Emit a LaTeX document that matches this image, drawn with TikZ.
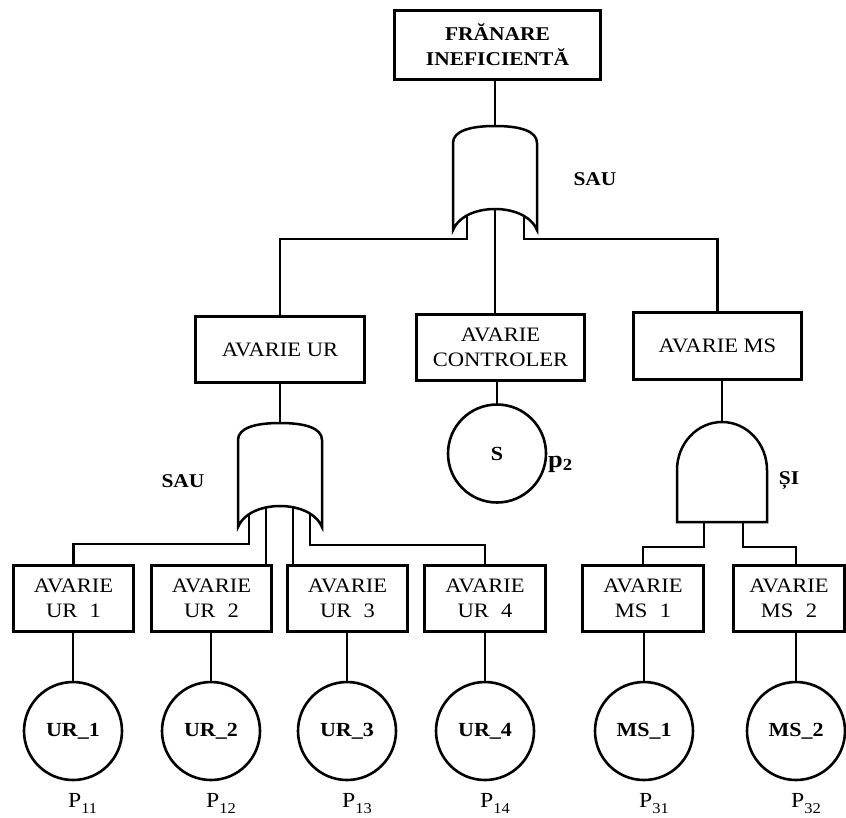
\documentclass[tikz,border=0pt]{standalone}
\usepackage{fontspec}
\setmainfont{Liberation Serif}[FakeStretch=1.1]
\usetikzlibrary{calc}

\newcommand\pidx[1]{\raisebox{-6pt}{\fontsize{15}{16}\selectfont #1}}

\tikzset{
  conn/.style={line width=2.5pt},
  evbox/.style={draw, line width=2.6pt, inner sep=0pt, align=center,
    minimum height=66.5pt, font=\fontsize{20.5}{24.5}\selectfont},
  basic/.style={draw, circle, line width=2.6pt, inner sep=0pt,
    minimum size=98pt, font=\bfseries\fontsize{20}{24}\selectfont},
  gatelbl/.style={anchor=base, inner sep=0pt, font=\bfseries\fontsize{19.5}{24}\selectfont},
  prob/.style={anchor=base west, inner sep=0pt, font=\fontsize{21.5}{24}\selectfont},
  orgate/.pic={
    \draw[line width=2.5pt, fill=white] (-42,104) -- (-42,17)
      .. controls (-42,5) and (-25,0) .. (0,0)
      .. controls (25,0) and (42,5) .. (42,17) -- (42,104)
      .. controls (35,88) and (15,83) .. (0,83)
      .. controls (-15,83) and (-35,88) .. (-42,104) -- cycle;
  },
  andgate/.pic={
    \draw[line width=2.5pt, fill=white] (-45,100) -- (-45,48)
      .. controls (-45,21.5) and (-24.85,0) .. (0,0)
      .. controls (24.85,0) and (45,21.5) .. (45,48) -- (45,100) -- cycle;
  }
}

\begin{document}
\begin{tikzpicture}[x=1pt,y=-1pt]
  \useasboundingbox (0,0) rectangle (846,817);

  % gate tops
  \coordinate (sau1) at (495,126);
  \coordinate (sau2) at (280,423);
  \coordinate (si) at (722,422);

  % events
  \node[evbox, minimum width=206.5pt, minimum height=69.5pt,
    font=\bfseries\fontsize{19.5}{25}\selectfont] (top) at (497.5,45) {FRĂNARE\\INEFICIENTĂ};
  \node[evbox, minimum width=169.5pt] (ur) at (280,349.5) {AVARIE UR};
  \node[evbox, minimum width=168.5pt] (ctl) at (500.5,347.5) {AVARIE\\CONTROLER};
  \node[evbox, minimum width=168.5pt] (ms) at (717.5,346) {AVARIE MS};
  \foreach \n/\x/\w/\t in {%
      ur1/73.5/120.5/UR\hspace{.6em}1,
      ur2/211.5/120.5/UR\hspace{.6em}2,
      ur3/347.5/120.5/UR\hspace{.6em}3,
      ur4/485/120.5/UR\hspace{.6em}4,
      ms1/643/120.5/MS\hspace{.6em}1,
      ms2/789/111.5/MS\hspace{.6em}2} {
    \node[evbox, minimum width=\w pt] (\n) at (\x,598.5) {AVARIE\\\t};
  }

  % basic events
  \node[basic] (s) at (497,453.5) {S};
  \node[anchor=base west, inner sep=0pt, font=\bfseries\fontsize{24}{26}\selectfont]
    (p2) at (548,467) {p\raisebox{-3pt}{\fontsize{17}{17}\selectfont 2}};
  \draw[conn] (s.north) -- (s.north |- ctl.south);
  \foreach \n/\x/\t/\p in {%
      ur1/73/UR\_1/11, ur2/211/UR\_2/12, ur3/347/UR\_3/13,
      ur4/485/UR\_4/14, ms1/644/MS\_1/31, ms2/796/MS\_2/32} {
    \node[basic] (b\n) at (\x,731) {\t};
    \draw[conn] (b\n.north) -- (b\n.north |- \n.south);
    \node[prob] (p\n) at (\x-5,807) {P\pidx{\p}};
  }

  % connectors
  \draw[conn] (sau1) -- (sau1 |- top.south);
  \draw[conn] (sau1) ++(-28,80) -- ++(0,33) -| (ur.north);
  \draw[conn] (sau1) -- (sau1 |- ctl.north);
  \draw[conn] (sau1) ++(29,80) -- ++(0,33) -| (ms.north);

  \draw[conn] (ur.south) -- (sau2);
  \draw[conn] (sau2) ++(-31,80) -- ++(0,41) -| (ur1.north);
  \draw[conn] ([xshift=-14pt]sau2) -- ([xshift=-14pt]sau2 |- ur2.north);
  \draw[conn] ([xshift=13pt]sau2) -- ([xshift=13pt]sau2 |- ur3.north);
  \draw[conn] (sau2) ++(30,80) -- ++(0,42) -| (ur4.north);

  \draw[conn] (si) -- (si |- ms.south);
  \draw[conn] (si) ++(-18,100) -- ++(0,25) -| (ms1.north);
  \draw[conn] (si) ++(21,100) -- ++(0,25) -| ([xshift=7pt]ms2.north);

  % gates
  \pic at (sau1) {orgate};
  \pic at (sau2) {orgate};
  \pic at (si) {andgate};
  \node[gatelbl] (lsau1) at (595,185) {SAU};
  \node[gatelbl] (lsau2) at (183,487) {SAU};
  \node[gatelbl] (lsi) at (789,484) {ȘI};
\end{tikzpicture}
\end{document}
